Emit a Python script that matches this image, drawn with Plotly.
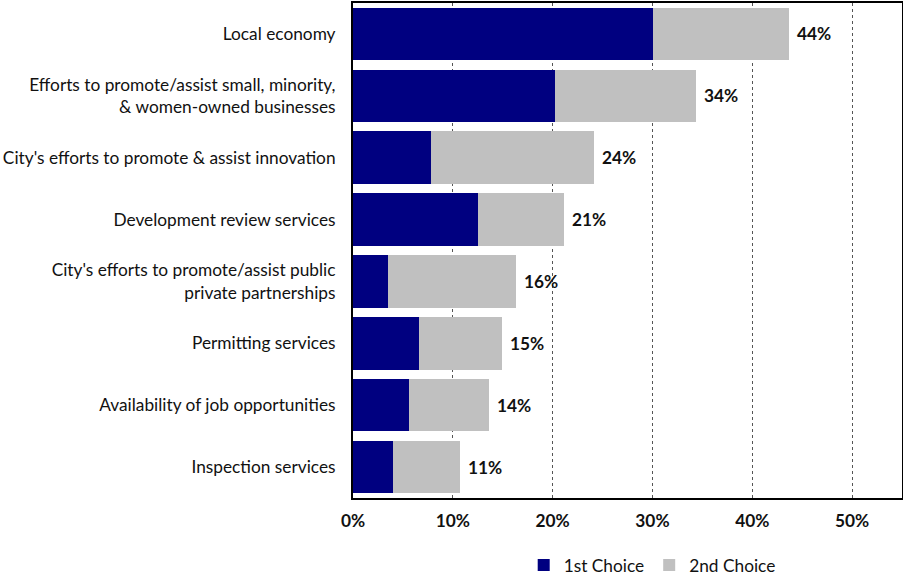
import plotly.graph_objects as go

categories = [
    "Local economy",
    "Efforts to promote/assist small, minority,<br>& women-owned businesses",
    "City's efforts to promote & assist innovation",
    "Development review services",
    "City's efforts to promote/assist public<br>private partnerships",
    "Permitting services",
    "Availability of job opportunities",
    "Inspection services",
]
first_choice = [30.1, 20.2, 7.8, 12.5, 3.5, 6.6, 5.6, 4.0]
second_choice = [13.6, 14.2, 16.3, 8.6, 12.8, 8.3, 8.0, 6.7]
x_ticks = [0, 10, 20, 30, 40, 50]

totals = [a + b for a, b in zip(first_choice, second_choice)]

FONT = "Lato, 'Open Sans', sans-serif"
SIZE = 17.3

fig = go.Figure()
fig.add_trace(go.Bar(
    y=categories, x=first_choice, orientation="h", name="1st Choice",
    marker=dict(color="#000080", line=dict(width=0)),
))
fig.add_trace(go.Bar(
    y=categories, x=second_choice, orientation="h", name="2nd Choice",
    marker=dict(color="#C0C0C0", line=dict(width=0)),
))

for cat, tot in zip(categories, totals):
    fig.add_annotation(
        x=tot, y=cat, text=f"<b>{round(tot)}%</b>", showarrow=False,
        xanchor="left", xshift=6, font=dict(size=SIZE, color="#111111", family=FONT),
    )

fig.update_layout(
    barmode="stack",
    bargap=0.15,
    width=903, height=582,
    margin=dict(l=353, r=1, t=3, b=84, autoexpand=False),
    paper_bgcolor="white", plot_bgcolor="white",
    font=dict(family=FONT, size=SIZE, color="#111111"),
    showlegend=True,
    legend=dict(
        orientation="h", x=0.545, xanchor="center", y=-0.172, yanchor="bottom",
        font=dict(size=SIZE, color="#111111", family=FONT),
        traceorder="normal", itemwidth=30, tracegroupgap=0,
    ),
    xaxis=dict(
        range=[0, 55], tickvals=x_ticks, ticktext=[f"<b>{v}%</b>" for v in x_ticks],
        showgrid=True, gridcolor="#555555", griddash="3px,3px", gridwidth=1,
        showline=True, linecolor="black", linewidth=2, mirror=True,
        zeroline=False, ticks="", ticklabelstandoff=6,
        tickfont=dict(size=SIZE, family=FONT),
    ),
    yaxis=dict(
        autorange="reversed", showgrid=False,
        showline=True, linecolor="black", linewidth=2, mirror=True,
        ticks="", ticklabelstandoff=12, tickfont=dict(size=SIZE, family=FONT),
    ),
)

fig.write_html("out.html")
